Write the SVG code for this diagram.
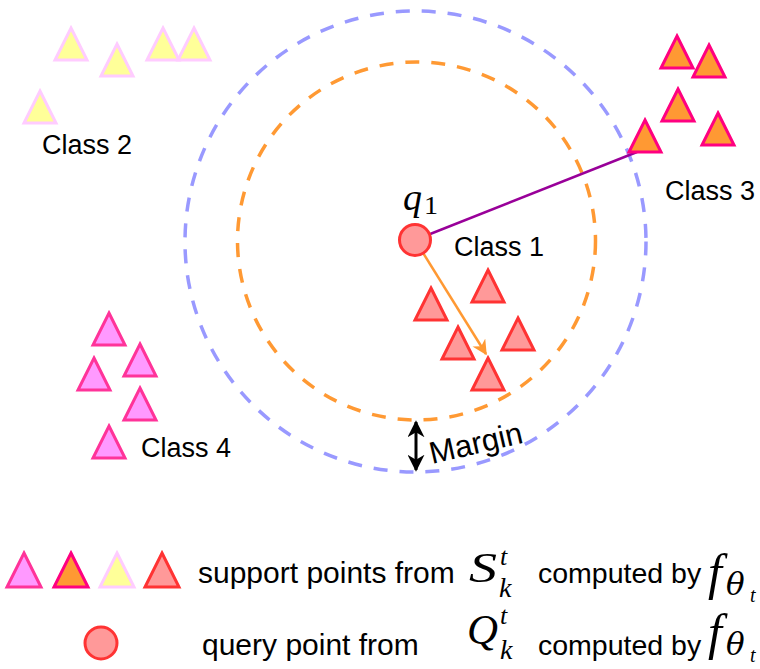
<svg xmlns="http://www.w3.org/2000/svg" xmlns:xlink="http://www.w3.org/1999/xlink" width="760" height="669" viewBox="0 0 760 669">
<style>
.c1{fill:#FF9999;stroke:#FF3333;stroke-width:3}
.c2{fill:#FFFF99;stroke:#FFCCFF;stroke-width:3}
.c3{fill:#FF9933;stroke:#FF0080;stroke-width:3}
.c4{fill:#FF99FF;stroke:#FF3399;stroke-width:3}
.lbl{font-family:"Liberation Sans",Arial,sans-serif;font-size:27px;fill:#000}
.leg{font-family:"Liberation Sans",Arial,sans-serif;font-size:30px;fill:#000}
.legc{font-family:"Liberation Sans",Arial,sans-serif;font-size:28.5px;fill:#000}
.math{font-family:"Liberation Serif","Times New Roman",serif;font-style:italic;fill:#000}
.theta{font-family:"DejaVu Serif",serif;font-style:italic;font-size:31px;fill:#000}
.ring{fill:none;stroke-width:3.5;stroke-dasharray:14 12}
</style>
<defs>
<path id="tri" d="M0,0 L16,32 L-16,32 Z"/>
<path id="triL" d="M0,0 L17,34 L-17,34 Z"/>
<marker id="arrO" viewBox="0 0 10 10" refX="9" refY="5" markerWidth="15" markerHeight="15" markerUnits="userSpaceOnUse" orient="auto">
<path d="M0,0 L10,5 L0,10 L3,5 Z" fill="#FF9933"/>
</marker>
<marker id="arrK" viewBox="0 0 10 10" refX="9" refY="5" markerWidth="17" markerHeight="17" markerUnits="userSpaceOnUse" orient="auto-start-reverse">
<path d="M0,0 L10,5 L0,10 L3,5 Z" fill="#000"/>
</marker>
</defs>
<rect width="760" height="669" fill="#fff"/>

<g id="rings">
<circle cx="415.5" cy="241.5" r="230.5" class="ring" stroke="#9999FF"/>
<circle cx="416.5" cy="241" r="179" class="ring" stroke="#FF9933"/>
</g>

<g id="connectors">
<line x1="415" y1="240" x2="637" y2="152" stroke="#990099" stroke-width="2.5"/>
<line x1="415" y1="240" x2="486" y2="354" stroke="#FF9933" stroke-width="2.5" marker-end="url(#arrO)"/>
<line x1="416" y1="422" x2="416" y2="470" stroke="#000" stroke-width="3" marker-start="url(#arrK)" marker-end="url(#arrK)"/>
</g>

<g id="query">
<circle cx="415" cy="240" r="15.5" fill="#FF9999" stroke="#FF3333" stroke-width="3"/>
<text x="403" y="210" class="math" font-size="38" textLength="19" lengthAdjust="spacingAndGlyphs">q</text>
<text x="424" y="214" font-family="Liberation Serif,serif" font-size="26" textLength="14" lengthAdjust="spacingAndGlyphs">1</text>
</g>

<g id="class1">
<use xlink:href="#tri" x="431" y="288" class="c1"/>
<use xlink:href="#tri" x="488" y="270" class="c1"/>
<use xlink:href="#tri" x="458" y="327" class="c1"/>
<use xlink:href="#tri" x="518" y="318" class="c1"/>
<use xlink:href="#tri" x="488" y="358" class="c1"/>
<text x="454" y="256" class="lbl">Class 1</text>
</g>

<g id="class2">
<use xlink:href="#tri" x="71" y="28" class="c2"/>
<use xlink:href="#tri" x="117" y="44" class="c2"/>
<use xlink:href="#tri" x="163" y="28" class="c2"/>
<use xlink:href="#tri" x="194" y="28" class="c2"/>
<use xlink:href="#tri" x="40" y="91" class="c2"/>
<text x="42" y="154" class="lbl">Class 2</text>
</g>

<g id="class3">
<use xlink:href="#tri" x="677" y="36" class="c3"/>
<use xlink:href="#tri" x="709" y="45" class="c3"/>
<use xlink:href="#tri" x="678" y="89" class="c3"/>
<use xlink:href="#tri" x="718" y="113" class="c3"/>
<use xlink:href="#tri" x="645" y="120" class="c3"/>
<text x="665" y="200" class="lbl">Class 3</text>
</g>

<g id="class4">
<use xlink:href="#tri" x="109" y="313" class="c4"/>
<use xlink:href="#tri" x="140" y="344" class="c4"/>
<use xlink:href="#tri" x="94" y="358" class="c4"/>
<use xlink:href="#tri" x="140" y="388" class="c4"/>
<use xlink:href="#tri" x="109" y="426" class="c4"/>
<text x="141" y="457" class="lbl">Class 4</text>
</g>

<g id="margin">
<text x="432" y="464" class="lbl" style="font-size:31px" transform="rotate(-13 432 464)">Margin</text>
</g>

<g id="legend-support">
<use xlink:href="#triL" x="24" y="553" class="c4"/>
<use xlink:href="#triL" x="71" y="553" class="c3"/>
<use xlink:href="#triL" x="117" y="553" class="c2"/>
<use xlink:href="#triL" x="162" y="553" class="c1"/>
<text x="198" y="583" class="leg">support points from</text>
<text x="469" y="582" class="math" font-size="43" textLength="28" lengthAdjust="spacingAndGlyphs">S</text>
<text x="500" y="565" class="math" font-size="26">t</text>
<text x="499" y="597" class="math" font-size="28">k</text>
<text x="538" y="583" class="legc">computed by</text>
<text x="708" y="589" class="math" font-size="50">f</text>
<text x="726" y="595" class="theta">θ</text>
<text x="750" y="602" class="math" font-size="20">t</text>
</g>

<g id="legend-query">
<circle cx="101" cy="643" r="16" fill="#FF9999" stroke="#FF3333" stroke-width="3"/>
<text x="202" y="655" class="leg">query point from</text>
<text x="467" y="644" class="math" font-size="43" textLength="31" lengthAdjust="spacingAndGlyphs">Q</text>
<text x="500" y="624" class="math" font-size="26">t</text>
<text x="500" y="659" class="math" font-size="28">k</text>
<text x="538" y="655" class="legc">computed by</text>
<text x="708" y="649" class="math" font-size="50">f</text>
<text x="726" y="655" class="theta">θ</text>
<text x="750" y="662" class="math" font-size="20">t</text>
</g>
</svg>
